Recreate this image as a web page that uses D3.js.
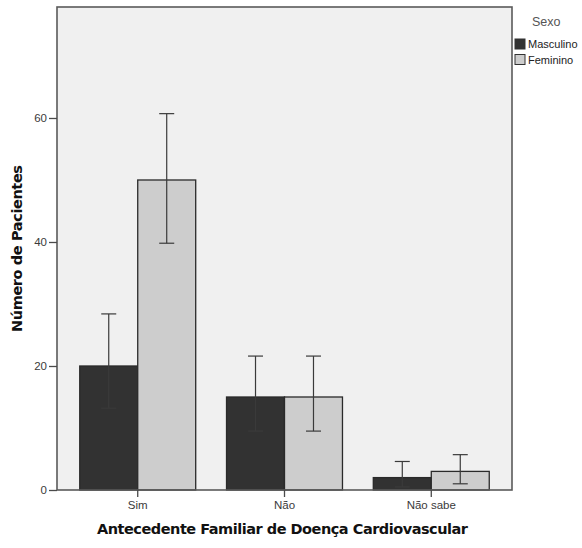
<!DOCTYPE html>
<html>
<head>
<meta charset="utf-8">
<script src="https://cdn.jsdelivr.net/npm/d3@7/dist/d3.min.js"></script>
<style>
  body { margin: 0; background: #ffffff; }
  svg { display: block; }
  text { font-family: "Liberation Sans", Arial, sans-serif; }
</style>
</head>
<body>
<svg id="chart" width="582" height="548"></svg>
<script>
// Antecedente familiar de doença cardiovascular, por sexo
const categories = ["Sim", "Não", "Não sabe"];
const series = ["Masculino", "Feminino"];
const masculino = [20, 15, 2];
const feminino = [50, 15, 3];
const masculinoLow = [13.2, 9.5, 0.5];
const masculinoHigh = [28.4, 21.6, 4.6];
const femininoLow = [39.8, 9.5, 1.0];
const femininoHigh = [60.7, 21.6, 5.7];
const yTicks = [0, 20, 40, 60];

const colors = { Masculino: "#323232", Feminino: "#cdcdcd" };

const svg = d3.select("#chart");
const frame = { left: 57, right: 512, top: 7, bottom: 490 };

const x = d3.scaleBand()
  .domain(categories)
  .range([frame.left, frame.right])
  .paddingInner(0.21)
  .paddingOuter(0.155);

const xs = d3.scaleBand()
  .domain(series)
  .range([0, x.bandwidth()]);

const y = d3.scaleLinear()
  .domain([0, 77.9])
  .range([frame.bottom, frame.top]);

// Plot background
svg.append("rect")
  .attr("x", frame.left).attr("y", frame.top)
  .attr("width", frame.right - frame.left)
  .attr("height", frame.bottom - frame.top)
  .attr("fill", "#f0f0f0");

const rows = [];
categories.forEach((c, i) => {
  rows.push({ cat: c, s: "Masculino", v: masculino[i], lo: masculinoLow[i], hi: masculinoHigh[i] });
  rows.push({ cat: c, s: "Feminino", v: feminino[i], lo: femininoLow[i], hi: femininoHigh[i] });
});

// Bars
svg.append("g").selectAll("rect")
  .data(rows)
  .join("rect")
  .attr("x", d => x(d.cat) + xs(d.s))
  .attr("y", d => y(d.v))
  .attr("width", xs.bandwidth())
  .attr("height", d => y(0) - y(d.v))
  .attr("fill", d => colors[d.s])
  .attr("stroke", "#2a2a2a")
  .attr("stroke-width", 1.3);

// Error bars
const eb = svg.append("g").attr("stroke", "#3a3a3a").attr("stroke-width", 1.2);
rows.forEach(d => {
  const cx = x(d.cat) + xs(d.s) + xs.bandwidth() / 2;
  eb.append("line").attr("x1", cx).attr("x2", cx).attr("y1", y(d.lo)).attr("y2", y(d.hi));
  eb.append("line").attr("x1", cx - 7.5).attr("x2", cx + 7.5).attr("y1", y(d.lo)).attr("y2", y(d.lo));
  eb.append("line").attr("x1", cx - 7.5).attr("x2", cx + 7.5).attr("y1", y(d.hi)).attr("y2", y(d.hi));
});

// Frame
svg.append("rect")
  .attr("x", frame.left).attr("y", frame.top)
  .attr("width", frame.right - frame.left)
  .attr("height", frame.bottom - frame.top)
  .attr("fill", "none")
  .attr("stroke", "#5a5a5a")
  .attr("stroke-width", 1.6);

// Y axis
const yAxis = svg.append("g")
  .attr("transform", `translate(${frame.left},0)`)
  .call(d3.axisLeft(y).tickValues(yTicks).tickSize(8).tickPadding(2).tickFormat(d3.format("d")));
yAxis.select(".domain").remove();
yAxis.selectAll(".tick line").attr("stroke", "#4a4a4a").attr("stroke-width", 1.3);
yAxis.selectAll(".tick text")
  .attr("fill", "#3a3a3a")
  .style("font-size", "11.5px")
  .style("font-family", "'Liberation Sans Narrow', 'Liberation Sans', sans-serif");

// X axis
const xAxis = svg.append("g")
  .attr("transform", `translate(0,${frame.bottom})`)
  .call(d3.axisBottom(x).tickSize(7).tickPadding(4));
xAxis.select(".domain").remove();
xAxis.selectAll(".tick line").attr("stroke", "#4a4a4a").attr("stroke-width", 1.3);
xAxis.selectAll(".tick text")
  .attr("fill", "#3a3a3a")
  .style("font-size", "11.5px")
  .style("font-family", "'Liberation Sans Narrow', 'Liberation Sans', sans-serif");

// Axis titles
svg.append("text")
  .attr("x", (frame.left + frame.right) / 2 - 2)
  .attr("y", 534)
  .attr("text-anchor", "middle")
  .attr("font-weight", "bold")
  .attr("font-size", "14.5px")
  .attr("fill", "#111")
  .style("font-family", "'DejaVu Sans', sans-serif")
  .attr("textLength", 371)
  .text("Antecedente Familiar de Doença Cardiovascular");

svg.append("text")
  .attr("transform", `translate(22,${(frame.top + frame.bottom) / 2}) rotate(-90)`)
  .attr("text-anchor", "middle")
  .attr("font-weight", "bold")
  .attr("font-size", "14.5px")
  .attr("fill", "#111")
  .style("font-family", "'DejaVu Sans', sans-serif")
  .attr("textLength", 167)
  .text("Número de Pacientes");

// Legend
const legend = svg.append("g");
legend.append("text")
  .attr("x", 532).attr("y", 26)
  .attr("fill", "#555")
  .attr("font-size", "12.5px")
  .text("Sexo");
series.forEach((s, i) => {
  const gy = 39 + i * 15.5;
  legend.append("rect")
    .attr("x", 515).attr("y", gy)
    .attr("width", 10).attr("height", 10)
    .attr("fill", colors[s])
    .attr("stroke", "#333").attr("stroke-width", 1);
  legend.append("text")
    .attr("x", 528).attr("y", gy + 9)
    .attr("fill", "#222")
    .attr("font-size", "11px")
    .style("font-family", "'Liberation Sans Narrow', 'Liberation Sans', sans-serif")
    .text(s);
});
</script>
</body>
</html>
